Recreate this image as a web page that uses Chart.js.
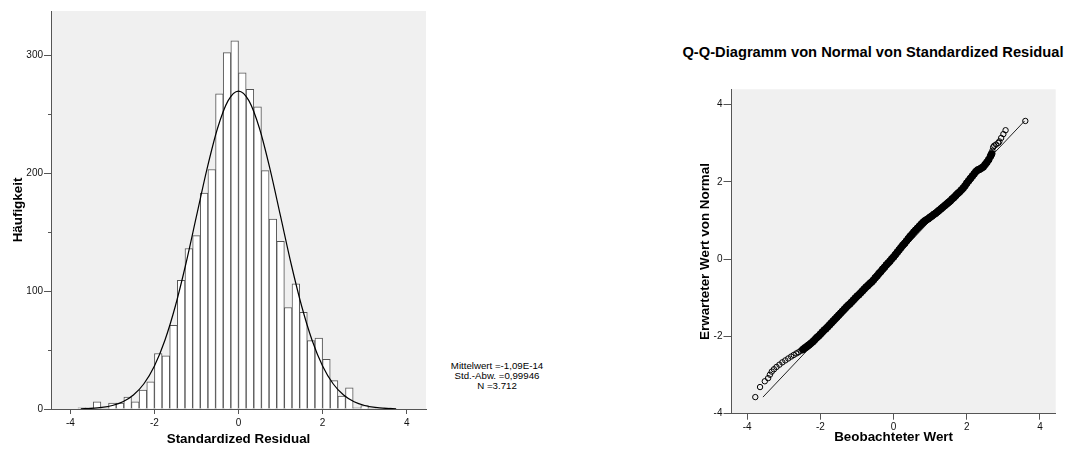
<!DOCTYPE html>
<html>
<head>
<meta charset="utf-8">
<script src="https://cdn.jsdelivr.net/npm/chart.js@4.4.1/dist/chart.umd.min.js"></script>
<style>
  html, body { margin: 0; padding: 0; background: #fff; width: 1066px; height: 450px; overflow: hidden;
    font-family: "Liberation Sans", Arial, Helvetica, sans-serif; }
  #hist { position: absolute; left: 0; top: 0; }
  #qq { position: absolute; left: 690px; top: 0; }
  #stats { position: absolute; left: 440px; top: 360.5px; width: 114px; text-align: center;
    font-size: 9.7px; line-height: 10.3px; color: #000; white-space: nowrap; }
  #qqTitle { position: absolute; left: 640px; width: 466px; top: 43px; text-align: center;
    font-size: 14.7px; line-height: 18px; font-weight: bold; color: #000; white-space: nowrap; }
</style>
</head>
<body>
<canvas id="hist" width="440" height="450"></canvas>
<div id="stats"></div>
<div id="qqTitle"></div>
<canvas id="qq" width="376" height="450"></canvas>
<script>
// ---------- Histogram of standardized residuals ----------
const histTitleX = 'Standardized Residual';
const histTitleY = 'Häufigkeit';
const histBinStart = -42 / 11;   // lower edge of the first bin
const histBinWidth = 2 / 11;     // bin width
const histCounts = [
  1, 1, 6, 1, 5, 5, 10, 6, 16, 23,
  47, 45, 71, 109, 136, 147, 183, 203, 267, 302,
  312, 285, 271, 256, 202, 161, 142, 86, 106, 82,
  58, 60, 42, 24, 11, 18, 1, 3, 1, 0,
  1
];
const histXTicks = [-4, -2, 0, 2, 4];
const histYTicks = [0, 100, 200, 300];
const histMinorTicks = [50, 150, 250];

// fitted normal curve (frequency scale)
const curveX = [-3.75, -3.5, -3.25, -3, -2.75, -2.5, -2.25, -2, -1.75, -1.5, -1.25, -1, -0.75, -0.5, -0.25, 0,
                0.25, 0.5, 0.75, 1, 1.25, 1.5, 1.75, 2, 2.25, 2.5, 2.75, 3, 3.25, 3.5, 3.75];
const curveY = [0.2, 0.6, 1.4, 3, 6.1, 11.8, 21.4, 36.5, 58.3, 87.5, 123.3, 163.4, 203.3, 237.7, 261.1, 269.4,
                261.1, 237.7, 203.3, 163.4, 123.3, 87.5, 58.3, 36.5, 21.4, 11.8, 6.1, 3, 1.4, 0.6, 0.2];

// summary statistics
const statLabels = ['Mittelwert', 'Std.-Abw.', 'N'];
const statValues = ['-1,09E-14', '0,99946', '3.712'];

// ---------- Normal Q-Q plot ----------
const qqTitle = 'Q-Q-Diagramm von Normal von Standardized Residual';
const qqTitleX = 'Beobachteter Wert';
const qqTitleY = 'Erwarteter Wert von Normal';
const qqXTicks = [-4, -2, 0, 2, 4];
const qqYTicks = [-4, -2, 0, 2, 4];
const qqObserved = [
  -3.78, -3.65, -3.52, -3.43, -3.38, -3.33, -3.27, -3.20, -3.12, -3.04,
  -2.96, -2.88, -2.80, -2.73, -2.66, -2.60, -2.54, -2.48, -2.43, -2.38,
  -2.34, -2.30,
  -2.25, -2.20, -2.15, -2.10, -2.05, -2.00, -1.95, -1.90, -1.85, -1.80,
  -1.75, -1.70, -1.65, -1.60, -1.55, -1.50, -1.45, -1.40, -1.35, -1.30,
  -1.25, -1.20, -1.15, -1.10, -1.05, -1.00, -0.95, -0.90, -0.85, -0.80,
  -0.75, -0.70, -0.65, -0.60, -0.55, -0.50, -0.45, -0.40, -0.35, -0.30,
  -0.25, -0.20, -0.15, -0.10, -0.05, 0.00, 0.05, 0.10, 0.15, 0.20,
  0.25, 0.30, 0.35, 0.40, 0.45, 0.50, 0.55, 0.60, 0.65, 0.70,
  0.75, 0.80, 0.85, 0.90, 0.95, 1.00, 1.05, 1.10, 1.15, 1.20,
  1.25, 1.30, 1.35, 1.40, 1.45, 1.50, 1.55, 1.60, 1.65, 1.70,
  1.75, 1.80, 1.85, 1.90, 1.95, 2.00, 2.05, 2.10, 2.15, 2.20,
  2.25, 2.30, 2.35, 2.40, 2.45, 2.50, 2.55, 2.60, 2.65, 2.68,
  2.70,
  2.72, 2.75, 2.80, 2.86, 2.89, 2.94, 3.00, 3.06, 3.60
];
const qqExpected = [
  -3.57, -3.31, -3.16, -3.08, -2.99, -2.91, -2.85, -2.79, -2.73, -2.67,
  -2.62, -2.57, -2.52, -2.48, -2.44, -2.41, -2.37, -2.34, -2.30, -2.27,
  -2.24, -2.21,
  -2.17, -2.13, -2.08, -2.03, -1.99, -1.94, -1.89, -1.84, -1.80, -1.75,
  -1.70, -1.65, -1.60, -1.55, -1.50, -1.45, -1.40, -1.35, -1.30, -1.25,
  -1.20, -1.16, -1.11, -1.06, -1.01, -0.96, -0.92, -0.87, -0.82, -0.77,
  -0.72, -0.68, -0.63, -0.59, -0.54, -0.48, -0.43, -0.37, -0.32, -0.26,
  -0.21, -0.15, -0.10, -0.05, 0.01, 0.06, 0.12, 0.18, 0.24, 0.30,
  0.36, 0.41, 0.47, 0.53, 0.59, 0.64, 0.70, 0.75, 0.80, 0.85,
  0.90, 0.95, 0.99, 1.02, 1.05, 1.09, 1.12, 1.16, 1.19, 1.23,
  1.27, 1.31, 1.35, 1.39, 1.43, 1.47, 1.51, 1.56, 1.60, 1.65,
  1.70, 1.74, 1.79, 1.84, 1.90, 1.97, 2.03, 2.09, 2.15, 2.21,
  2.27, 2.31, 2.33, 2.36, 2.39, 2.45, 2.51, 2.58, 2.67, 2.73,
  2.81,
  2.90, 2.94, 2.97, 3.01, 3.05, 3.14, 3.24, 3.34, 3.58
];
const qqLineEnds = [-3.57, 3.58];   // reference line y = x over the expected range
// observed range where the rings overlap into a solid band
const qqSolidRange = [-2.5, 2.69];

// ---------- shared styling ----------
const FONT = '"Liberation Sans", Arial, Helvetica, sans-serif';
const AXIS_COLOR = '#555';
const PLOT_BG = '#f0f0f0';
Chart.defaults.font.family = FONT;
Chart.defaults.color = '#000';

document.getElementById('stats').innerHTML =
  statLabels.map((l, i) => l + ' =' + statValues[i]).join('<br>');
document.getElementById('qqTitle').textContent = qqTitle;

const plotBg = {
  id: 'plotBg',
  beforeDraw(chart) {
    const { ctx, chartArea: a } = chart;
    ctx.save();
    ctx.fillStyle = PLOT_BG;
    ctx.fillRect(a.left, a.top, a.right - a.left, a.bottom - a.top);
    ctx.restore();
  }
};

const minorTicks = {
  id: 'minorTicks',
  afterDraw(chart, args, opts) {
    const y = chart.scales.y;
    const ctx = chart.ctx;
    ctx.save();
    ctx.strokeStyle = AXIS_COLOR;
    ctx.lineWidth = 1;
    for (const v of opts.values || []) {
      const py = Math.round(y.getPixelForValue(v)) + 0.5;
      ctx.beginPath();
      ctx.moveTo(y.right - 3, py);
      ctx.lineTo(y.right, py);
      ctx.stroke();
    }
    ctx.restore();
  }
};

function tickFilter(list) {
  return (axis) => { axis.ticks = axis.ticks.filter(t => list.includes(t.value)); };
}

const tickFont = { size: 10 };
const titleFont = { size: 13.4, weight: 'bold' };

new Chart(document.getElementById('hist'), {
  type: 'bar',
  data: {
    datasets: [
      {
        type: 'line',
        data: curveX.map((x, i) => ({ x, y: curveY[i] })),
        borderColor: '#000',
        borderWidth: 1.2,
        pointRadius: 0,
        cubicInterpolationMode: 'monotone',
        fill: false,
        order: 0
      },
      {
        type: 'bar',
        data: histCounts.map((c, i) => ({ x: histBinStart + (i + 0.5) * histBinWidth, y: c })),
        backgroundColor: '#fff',
        borderColor: '#555',
        borderWidth: 1,
        barPercentage: 1,
        categoryPercentage: 1,
        order: 1
      }
    ]
  },
  options: {
    responsive: false,
    animation: false,
    events: [],
    layout: { padding: { top: 11, right: 14, left: 0, bottom: 0 } },
    plugins: {
      legend: { display: false },
      tooltip: { enabled: false },
      minorTicks: { values: histMinorTicks }
    },
    scales: {
      x: {
        type: 'linear', min: -4.46, max: 4.46, offset: false,
        grid: { offset: false, drawOnChartArea: false, tickLength: 5, color: AXIS_COLOR },
        border: { color: AXIS_COLOR },
        ticks: { stepSize: 2, includeBounds: false, padding: 3, font: tickFont, color: '#111', maxRotation: 0 },
        afterBuildTicks: tickFilter(histXTicks),
        title: { display: true, text: histTitleX, font: titleFont, color: '#000', padding: { top: 0, bottom: 2.7 } },
        afterFit(s) { s.height = 41; }
      },
      y: {
        type: 'linear', min: 0, max: 337.3,
        grid: { drawOnChartArea: false, tickLength: 7, color: AXIS_COLOR },
        border: { color: AXIS_COLOR },
        ticks: { stepSize: 100, includeBounds: false, padding: 1, font: tickFont, color: '#111' },
        afterBuildTicks: tickFilter(histYTicks),
        title: { display: true, text: histTitleY, font: titleFont, color: '#000', padding: { top: 10, bottom: 0 } },
        afterFit(s) { s.width = 51; }
      }
    }
  },
  plugins: [plotBg, minorTicks]
});

const inSolid = (ctx) => {
  const v = qqObserved[ctx.dataIndex];
  return v >= qqSolidRange[0] && v <= qqSolidRange[1];
};

new Chart(document.getElementById('qq'), {
  type: 'scatter',
  data: {
    datasets: [
      {
        type: 'line',
        data: qqLineEnds.map(v => ({ x: v, y: v })),
        borderColor: '#222',
        borderWidth: 1,
        pointRadius: 0,
        fill: false,
        order: 1
      },
      {
        type: 'scatter',
        data: qqObserved.map((x, i) => ({ x, y: qqExpected[i] })),
        pointRadius: (ctx) => inSolid(ctx) ? 3.4 : 2.7,
        pointBorderWidth: 1,
        pointBorderColor: '#000',
        pointBackgroundColor: (ctx) => inSolid(ctx) ? '#000' : 'rgba(0,0,0,0)',
        order: 0
      }
    ]
  },
  options: {
    responsive: false,
    animation: false,
    events: [],
    layout: { padding: { top: 89.3, right: 10.3, left: 0, bottom: 0 } },
    plugins: {
      legend: { display: false },
      tooltip: { enabled: false }
    },
    scales: {
      x: {
        type: 'linear', min: -4.43, max: 4.43,
        grid: { drawOnChartArea: false, tickLength: 6, color: AXIS_COLOR },
        border: { color: AXIS_COLOR },
        ticks: { stepSize: 2, includeBounds: false, padding: 2, font: tickFont, color: '#111', maxRotation: 0 },
        afterBuildTicks: tickFilter(qqXTicks),
        title: { display: true, text: qqTitleX, font: titleFont, color: '#000', padding: { top: 0, bottom: 5 } },
        afterFit(s) { s.height = 36.3; }
      },
      y: {
        type: 'linear', min: -4, max: 4.4,
        grid: { drawOnChartArea: false, tickLength: 8, color: AXIS_COLOR },
        border: { color: AXIS_COLOR },
        ticks: { stepSize: 2, includeBounds: false, padding: 1, font: tickFont, color: '#111' },
        afterBuildTicks: tickFilter(qqYTicks),
        title: { display: true, text: qqTitleY, font: titleFont, color: '#000', padding: { top: 7, bottom: 0 } },
        afterFit(s) { s.width = 41.5; }
      }
    }
  },
  plugins: [plotBg]
});
</script>
</body>
</html>
